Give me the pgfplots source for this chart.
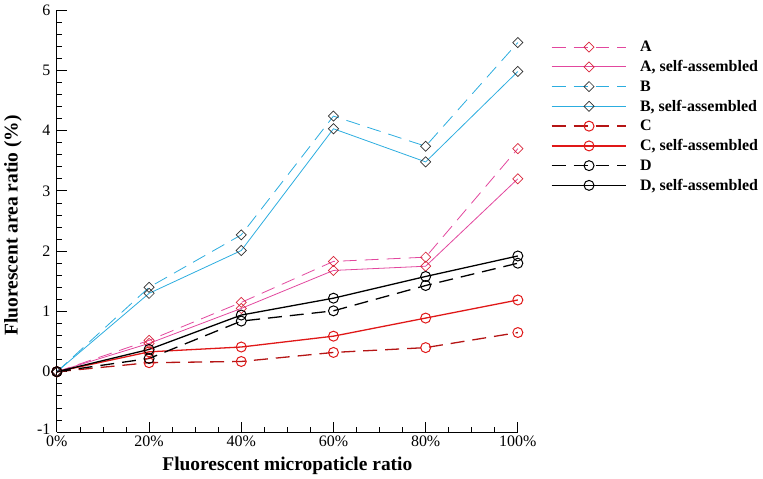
\documentclass[border=0pt]{standalone}
\usepackage{pgfplots}
\pgfplotsset{compat=1.18}
\usepackage{fontspec}
\setmainfont{Liberation Serif}
\definecolor{cA}{HTML}{E2479E}
\definecolor{mA}{HTML}{D8283C}
\definecolor{cB}{HTML}{2CADDF}
\definecolor{mB}{HTML}{303030}
\definecolor{cCd}{HTML}{B51515}
\definecolor{cC}{HTML}{E01818}
\begin{document}
\begin{tikzpicture}
\begin{axis}[
  name=ax,
  scale only axis, width=462pt, height=423pt,
  xmin=0, xmax=100, ymin=-1, ymax=6,
  axis lines*=left,
  xtick={0,20,40,60,80,100},
  xticklabels={0\%,20\%,40\%,60\%,80\%,100\%},
  ytick={-1,0,1,2,3,4,5,6},
  yticklabels={\raisebox{6pt}{-1},0,1,2,3,4,5,6},
  minor x tick num=3, minor y tick num=4,
  tick align=inside,
  major tick length=10pt, minor tick length=5pt,
  tick style={black, line width=0.8pt},
  axis line style={black, line width=0.9pt},
  /pgf/number format/assume math mode=true,
  ticklabel style={font=\fontsize{16}{19}\selectfont},
  yticklabel style={xshift=-3pt},
  xlabel={\textbf{Fluorescent micropaticle ratio}},
  ylabel={\textbf{Fluorescent area ratio (\%)}},
  label style={font=\fontsize{19.5}{23}\selectfont},
  xlabel style={at={(axis description cs:0.5,0)}, anchor=base, yshift=-39pt},
  ylabel style={at={(axis description cs:-0.0952,0.49)}, anchor=center},
  clip=false,
  legend style={at={(1,1)}, anchor=north west, xshift=30pt, yshift=-27pt,
    draw=none, fill=none, font=\fontsize{16}{19}\selectfont\bfseries,
    row sep=3.4pt},
  legend cell align=left,
  legend image code/.code={\draw[mark repeat=2,mark phase=2] plot coordinates {(0pt,0pt) (37.5pt,0pt) (75pt,0pt)};\path (86pt,0pt);},
]
\addplot[cA, line width=0.8pt, dash pattern=on 14pt off 8pt, mark=square, mark size=3.6pt, mark options={rotate=45, solid, draw=mA, fill=white, line width=0.7pt}]
  coordinates {(0,0) (20,0.52) (40,1.15) (60,1.83) (80,1.9) (100,3.7)};
\addlegendentry{A}
\addplot[cA, line width=0.8pt, mark=square, mark size=3.6pt, mark options={rotate=45, solid, draw=mA, fill=white, line width=0.7pt}]
  coordinates {(0,0) (20,0.47) (40,1.05) (60,1.68) (80,1.75) (100,3.2)};
\addlegendentry{A, self-assembled}
\addplot[cB, line width=0.8pt, dash pattern=on 14pt off 8pt, mark=square, mark size=3.6pt, mark options={rotate=45, solid, draw=mB, fill=white, line width=0.7pt}]
  coordinates {(0,0) (20,1.4) (40,2.27) (60,4.24) (80,3.74) (100,5.46)};
\addlegendentry{B}
\addplot[cB, line width=0.8pt, mark=square, mark size=3.6pt, mark options={rotate=45, solid, draw=mB, fill=white, line width=0.7pt}]
  coordinates {(0,0) (20,1.3) (40,2.01) (60,4.03) (80,3.48) (100,4.98)};
\addlegendentry{B, self-assembled}
\addplot[cCd, line width=1.3pt, dash pattern=on 14pt off 8pt, mark=o, mark size=5pt, mark options={solid, draw=cC, fill=none, line width=1pt}]
  coordinates {(0,0) (20,0.15) (40,0.17) (60,0.32) (80,0.4) (100,0.65)};
\addlegendentry{C}
\addplot[cC, line width=1.3pt, mark=o, mark size=5pt, mark options={solid, draw=cC, fill=none, line width=1pt}]
  coordinates {(0,0) (20,0.33) (40,0.41) (60,0.59) (80,0.89) (100,1.19)};
\addlegendentry{C, self-assembled}
\addplot[black, line width=1.3pt, dash pattern=on 14pt off 8pt, mark=o, mark size=5pt, mark options={solid, draw=black, fill=none, line width=1pt}]
  coordinates {(0,0) (20,0.22) (40,0.84) (60,1.01) (80,1.43) (100,1.8)};
\addlegendentry{D}
\addplot[black, line width=1.3pt, mark=o, mark size=5pt, mark options={solid, draw=black, fill=none, line width=1pt}]
  coordinates {(0,0) (20,0.37) (40,0.94) (60,1.22) (80,1.58) (100,1.92)};
\addlegendentry{D, self-assembled}
\end{axis}
\path[use as bounding box] ([xshift=-57pt,yshift=-46pt]ax.south west) rectangle ([xshift=244pt,yshift=10pt]ax.north east);
\end{tikzpicture}
\end{document}
